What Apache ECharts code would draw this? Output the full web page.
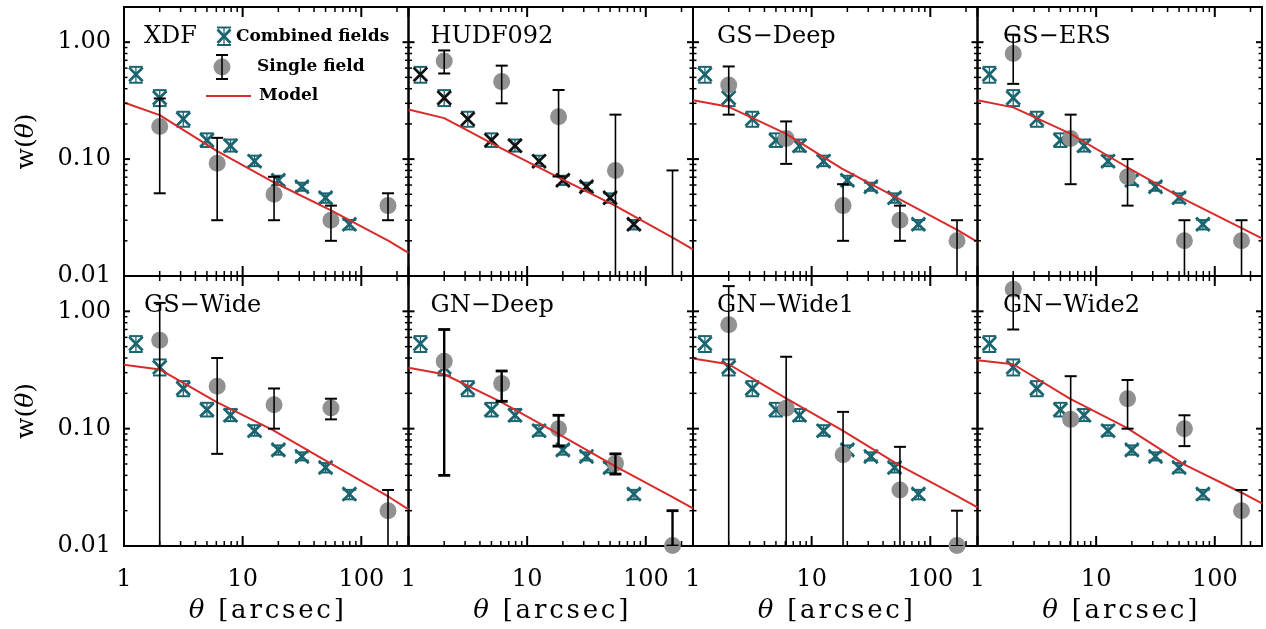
<!DOCTYPE html>
<html><head><meta charset="utf-8">
<script src="https://cdn.jsdelivr.net/npm/echarts@6/dist/echarts.min.js"></script>
<style>html,body{margin:0;padding:0;background:#fff}#c{width:1266px;height:629px}</style>
</head><body><div id="c"></div>
<script>
// ---------------- data ----------------
const panelNames = ['XDF', 'HUDF092', 'GS\u2212Deep', 'GS\u2212ERS', 'GS\u2212Wide', 'GN\u2212Deep', 'GN\u2212Wide1', 'GN\u2212Wide2'];

// combined fields (same in every panel)
const combinedTheta = [1.26, 2.0, 3.16, 5.0, 7.9, 12.6, 20, 31.6, 50, 79.4];
const combinedW     = [0.53, 0.334, 0.22, 0.145, 0.13, 0.096, 0.066, 0.058, 0.0467, 0.0277];
const combinedLo    = [0.45, 0.284, 0.189, 0.127, 0.116, 0.087, 0.060, 0.0536, 0.0423, 0.025];
const combinedHi    = [0.615, 0.389, 0.254, 0.166, 0.147, 0.107, 0.072, 0.0628, 0.0509, 0.0301];

// single field
const singleTheta = [2.0, 6.1, 18.4, 55.5, 168];
const singleW = {
  'XDF':      [0.19, 0.092, 0.050, 0.030, 0.040],
  'HUDF092':  [0.69, 0.46, 0.23, 0.080, null],
  'GS-Deep':  [0.43, 0.150, 0.040, 0.030, 0.020],
  'GS-ERS':   [0.80, 0.150, 0.0706, 0.020, 0.020],
  'GS-Wide':  [0.567, 0.23, 0.16, 0.150, 0.020],
  'GN-Deep':  [0.375, 0.242, 0.10, 0.0506, 0.0101],
  'GN-Wide1': [0.77, 0.149, 0.060, 0.030, 0.0101],
  'GN-Wide2': [1.54, 0.12, 0.18, 0.10, 0.020]
};
// lower / upper error limits (0.005 = bar runs below the axis)
const singleLo = {
  'XDF':      [0.051, 0.030, 0.030, 0.020, 0.030],
  'HUDF092':  [0.54, 0.30, 0.071, 0.005, 0.005],
  'GS-Deep':  [0.24, 0.091, 0.020, 0.020, 0.005],
  'GS-ERS':   [0.44, 0.061, 0.040, 0.005, 0.005],
  'GS-Wide':  [0.005, 0.061, 0.10, 0.12, 0.005],
  'GN-Deep':  [0.040, 0.171, 0.071, 0.041, 0.0100],
  'GN-Wide1': [0.005, 0.005, 0.005, 0.005, 0.0100],
  'GN-Wide2': [0.70, 0.005, 0.10, 0.071, 0.005]
};
const singleHi = {
  'XDF':      [0.33, 0.152, 0.0706, 0.040, 0.051],
  'HUDF092':  [0.85, 0.63, 0.39, 0.24, 0.080],
  'GS-Deep':  [0.62, 0.21, 0.061, 0.040, 0.030],
  'GS-ERS':   [1.16, 0.24, 0.10, 0.030, 0.030],
  'GS-Wide':  [1.18, 0.40, 0.22, 0.18, 0.030],
  'GN-Deep':  [0.70, 0.31, 0.13, 0.061, 0.020],
  'GN-Wide1': [1.64, 0.41, 0.139, 0.070, 0.020],
  'GN-Wide2': [2.5, 0.28, 0.26, 0.13, 0.030]
};

// model curves
const modelTheta = [1, 2, 6, 18, 55, 170, 250];
const modelW = {
  'XDF':      [0.305, 0.238, 0.118, 0.064, 0.0366, 0.020, 0.0158],
  'HUDF092':  [0.266, 0.224, 0.124, 0.0705, 0.0400, 0.0212, 0.0169],
  'GS-Deep':  [0.319, 0.280, 0.166, 0.083, 0.0455, 0.0247, 0.0196],
  'GS-ERS':   [0.319, 0.277, 0.166, 0.086, 0.0455, 0.0255, 0.0210],
  'GS-Wide':  [0.350, 0.320, 0.169, 0.097, 0.0506, 0.0263, 0.0205],
  'GN-Deep':  [0.330, 0.291, 0.169, 0.091, 0.048, 0.026, 0.0209],
  'GN-Wide1': [0.396, 0.354, 0.183, 0.097, 0.0486, 0.0265, 0.0213],
  'GN-Wide2': [0.383, 0.354, 0.180, 0.102, 0.0496, 0.0283, 0.0231]
};

// ticks
const xMajorTicks = [1, 10, 100];
const xTickLabels = ['1', '10', '100'];
const xMinorTicks = [2, 3, 4, 5, 6, 7, 8, 9, 20, 30, 40, 50, 60, 70, 80, 90, 200];
const yMajorTicks = [0.01, 0.1, 1];
const yTickLabels = ['0.01', '0.10', '1.00'];
const yMinorTicks = [0.02, 0.03, 0.04, 0.05, 0.06, 0.07, 0.08, 0.09, 0.2, 0.3, 0.4, 0.5, 0.6, 0.7, 0.8, 0.9];

// ---------------- style / layout ----------------
const TEAL = '#1a6570', RED = '#d92b2b', GRAY = '#919191';
const FONT = 'DejaVu Serif';
const colLeft = [124, 408.5, 693, 977.5];
const colW = 284.5;
const rowTop = [7, 276];
const rowH = [269, 270];
const titleOffset = [20, 22, 24, 25.5];

function near(v, arr) {
  for (let k = 0; k < arr.length; k++) if (Math.abs(v - arr[k]) / arr[k] < 1e-6) return k;
  return -1;
}

// x-axis title with letter spacing (rich segments with padding)
const xTitle = '\u03b8 [arcsec]';
const xTitleRich = xTitle.split('').map(function (ch, k) {
  return (k === 0 ? '{i|' : '{c|') + (ch === ' ' ? '\u00a0' : ch) + '}';
}).join('');
const xTitleStyle = {
  c: {fontFamily: FONT, fontSize: 26, color: '#000', padding: [0, 1.4, 0, 1.4]},
  i: {fontFamily: FONT, fontSize: 26, color: '#000', fontStyle: 'italic', padding: [0, 1.4, 0, 1.4]}
};

const grids = [], xAxes = [], yAxes = [], series = [], titles = [];

panelNames.forEach(function (name, i) {
  const key = name.replace('\u2212', '-');
  const r = Math.floor(i / 4), c = i % 4;
  grids.push({left: colLeft[c], top: rowTop[r], width: colW, height: rowH[r],
    show: true, borderColor: '#000', borderWidth: 2, backgroundColor: 'transparent', containLabel: false});
  xAxes.push({type: 'log', logBase: 10, gridIndex: i, min: 1, max: 250,
    axisLine: {show: false}, axisTick: {show: false}, splitLine: {show: false},
    axisLabel: {show: r === 1, margin: 22, color: '#000', fontFamily: FONT, fontSize: 24,
      formatter: function (v) { const k = near(v, xMajorTicks); return k >= 0 ? xTickLabels[k] : ''; }},
    name: r === 1 ? xTitleRich : '', nameLocation: 'middle', nameGap: 52,
    nameTextStyle: {color: '#000', fontFamily: FONT, fontSize: 26, rich: xTitleStyle}
  });
  yAxes.push({type: 'log', logBase: 10, gridIndex: i, min: 0.01, max: 2,
    axisLine: {show: false}, axisTick: {show: false}, splitLine: {show: false},
    axisLabel: {show: c === 0, margin: 13, color: '#000', fontFamily: FONT, fontSize: 24,
      formatter: function (v) { const k = near(v, yMajorTicks); return k >= 0 ? yTickLabels[k] : ''; }},
    name: c === 0 ? '{n|w(}{i|\u03b8}{n|)}' : '', nameLocation: 'middle', nameGap: 85, nameRotate: 90,
    nameTextStyle: {color: '#000', fontFamily: FONT, fontSize: 25,
      rich: {n: {fontFamily: FONT, fontSize: 25, color: '#000'},
             i: {fontStyle: 'italic', fontFamily: FONT, fontSize: 25, color: '#000'}}}
  });
  titles.push({text: name, left: colLeft[c] + titleOffset[c], top: rowTop[r] + 18, padding: 0,
    textStyle: {fontFamily: FONT, fontSize: 24, fontWeight: 'normal', color: '#000'}});

  const xColor = key === 'HUDF092' ? '#111' : TEAL;

  // combined fields
  series.push({type: 'custom', xAxisIndex: i, yAxisIndex: i, z: 2, clip: true,
    data: combinedTheta.map(function (t, k) { return [t, combinedW[k], combinedLo[k], combinedHi[k]]; }),
    renderItem: function (params, api) {
      const p = api.coord([api.value(0), api.value(1)]);
      const lo = api.coord([api.value(0), api.value(2)]);
      const hi = api.coord([api.value(0), api.value(3)]);
      const h = 6.8, cw = 6.8;
      return {type: 'group', children: [
        {type: 'line', shape: {x1: p[0], y1: lo[1], x2: p[0], y2: hi[1]}, style: {stroke: TEAL, lineWidth: 1.3}},
        {type: 'line', shape: {x1: p[0] - cw, y1: lo[1], x2: p[0] + cw, y2: lo[1]}, style: {stroke: TEAL, lineWidth: 2}},
        {type: 'line', shape: {x1: p[0] - cw, y1: hi[1], x2: p[0] + cw, y2: hi[1]}, style: {stroke: TEAL, lineWidth: 2}},
        {type: 'line', shape: {x1: p[0] - h, y1: p[1] - h, x2: p[0] + h, y2: p[1] + h}, style: {stroke: xColor, lineWidth: 2.8}},
        {type: 'line', shape: {x1: p[0] + h, y1: p[1] - h, x2: p[0] - h, y2: p[1] + h}, style: {stroke: xColor, lineWidth: 2.8}}
      ]};
    }
  });

  // single field circles
  series.push({type: 'scatter', xAxisIndex: i, yAxisIndex: i, z: 3, symbol: 'circle', symbolSize: 17,
    itemStyle: {color: GRAY, opacity: 1},
    data: singleTheta.map(function (t, k) { return [t, singleW[key][k]]; }).filter(function (d) { return d[1] != null; })
  });

  // model
  series.push({type: 'line', xAxisIndex: i, yAxisIndex: i, z: 4, showSymbol: false, symbol: 'none',
    lineStyle: {color: RED, width: 2}, clip: true,
    data: modelTheta.map(function (t, k) { return [t, modelW[key][k]]; })
  });

  // single field error bars
  const bw = key === 'GN-Deep' ? 2.4 : 1.6;
  series.push({type: 'custom', xAxisIndex: i, yAxisIndex: i, z: 5, clip: true,
    data: singleTheta.map(function (t, k) { return [t, singleLo[key][k], singleHi[key][k]]; }),
    renderItem: function (params, api) {
      const lo = api.coord([api.value(0), api.value(1)]);
      const hi = api.coord([api.value(0), api.value(2)]);
      const cw = 6;
      return {type: 'group', children: [
        {type: 'line', shape: {x1: lo[0], y1: lo[1], x2: lo[0], y2: hi[1]}, style: {stroke: '#000', lineWidth: bw}},
        {type: 'line', shape: {x1: lo[0] - cw, y1: lo[1], x2: lo[0] + cw, y2: lo[1]}, style: {stroke: '#000', lineWidth: bw + 0.4}},
        {type: 'line', shape: {x1: hi[0] - cw, y1: hi[1], x2: hi[0] + cw, y2: hi[1]}, style: {stroke: '#000', lineWidth: bw + 0.4}}
      ]};
    }
  });

  // x ticks (bottom + top, inward)
  series.push({type: 'custom', xAxisIndex: i, yAxisIndex: i, z: 6, clip: false, silent: true,
    data: xMajorTicks.concat(xMinorTicks).map(function (v) { return [v, 1]; }),
    renderItem: function (params, api) {
      const v = api.value(0), cs = params.coordSys;
      const x = api.coord([v, 1])[0];
      const major = near(v, xMajorTicks) >= 0;
      const L = major ? 10 : 5, lw = major ? 2 : 1.5;
      const b = cs.y + cs.height, t = cs.y;
      return {type: 'group', children: [
        {type: 'line', shape: {x1: x, y1: b, x2: x, y2: b - L}, style: {stroke: '#000', lineWidth: lw}},
        {type: 'line', shape: {x1: x, y1: t, x2: x, y2: t + L}, style: {stroke: '#000', lineWidth: lw}}
      ]};
    }
  });
  // y ticks (left + right, inward)
  series.push({type: 'custom', xAxisIndex: i, yAxisIndex: i, z: 6, clip: false, silent: true,
    data: yMajorTicks.concat(yMinorTicks).map(function (v) { return [1, v]; }),
    renderItem: function (params, api) {
      const v = api.value(1), cs = params.coordSys;
      const y = api.coord([1, v])[1];
      const major = near(v, yMajorTicks) >= 0;
      const L = major ? 6 : 3.5, lw = major ? 2 : 1.5;
      const l = cs.x, rr = cs.x + cs.width;
      return {type: 'group', children: [
        {type: 'line', shape: {x1: l, y1: y, x2: l + L, y2: y}, style: {stroke: '#000', lineWidth: lw}},
        {type: 'line', shape: {x1: rr, y1: y, x2: rr - L, y2: y}, style: {stroke: '#000', lineWidth: lw}}
      ]};
    }
  });
});

// legend (drawn in the first panel)
const legendFont = 'bold 17px "DejaVu Serif"';
const graphic = [
  {type: 'group', z: 100, children: [
    {type: 'line', shape: {x1: 224, y1: 27.5, x2: 224, y2: 45}, style: {stroke: TEAL, lineWidth: 1.3}},
    {type: 'line', shape: {x1: 217, y1: 27.5, x2: 231, y2: 27.5}, style: {stroke: TEAL, lineWidth: 2}},
    {type: 'line', shape: {x1: 217, y1: 45, x2: 231, y2: 45}, style: {stroke: TEAL, lineWidth: 2}},
    {type: 'line', shape: {x1: 217.5, y1: 29.5, x2: 230.5, y2: 43}, style: {stroke: TEAL, lineWidth: 2.8}},
    {type: 'line', shape: {x1: 230.5, y1: 29.5, x2: 217.5, y2: 43}, style: {stroke: TEAL, lineWidth: 2.8}},
    {type: 'text', x: 236, y: 36.5, style: {text: 'Combined fields', font: legendFont, fill: '#000', verticalAlign: 'middle'}},
    {type: 'circle', shape: {cx: 222, cy: 67, r: 8.5}, style: {fill: GRAY}},
    {type: 'line', shape: {x1: 222, y1: 55, x2: 222, y2: 79}, style: {stroke: '#000', lineWidth: 1.6}},
    {type: 'line', shape: {x1: 216, y1: 55, x2: 228, y2: 55}, style: {stroke: '#000', lineWidth: 2}},
    {type: 'line', shape: {x1: 216, y1: 79, x2: 228, y2: 79}, style: {stroke: '#000', lineWidth: 2}},
    {type: 'text', x: 257, y: 67, style: {text: 'Single field', font: legendFont, fill: '#000', verticalAlign: 'middle'}},
    {type: 'line', shape: {x1: 206, y1: 96, x2: 251, y2: 96}, style: {stroke: RED, lineWidth: 2}},
    {type: 'text', x: 259, y: 96, style: {text: 'Model', font: legendFont, fill: '#000', verticalAlign: 'middle'}}
  ]}
];

const chart = echarts.init(document.getElementById('c'), null, {renderer: 'canvas'});
chart.setOption({
  animation: false,
  backgroundColor: '#fff',
  title: titles,
  grid: grids,
  xAxis: xAxes,
  yAxis: yAxes,
  series: series,
  graphic: graphic
});
</script>
</body></html>
